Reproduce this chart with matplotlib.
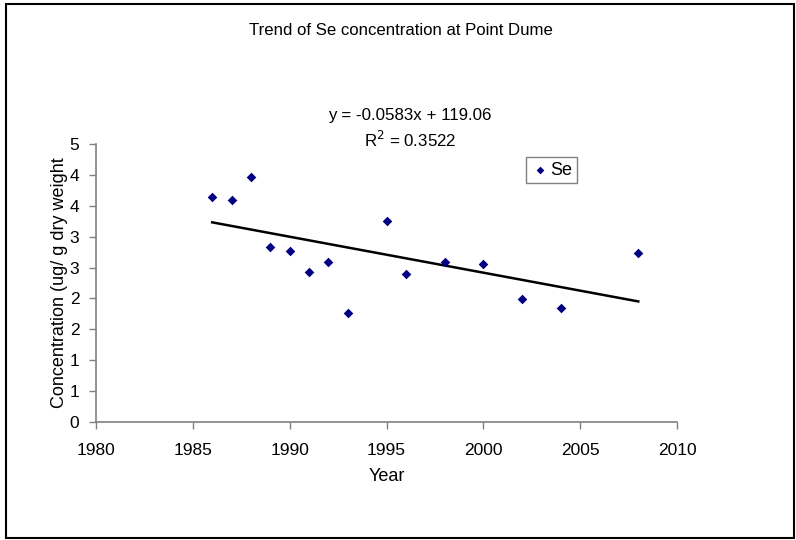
import matplotlib
matplotlib.use("Agg")
import matplotlib.pyplot as plt
import numpy as np
from matplotlib.patches import Rectangle

plt.rcParams['font.family'] = ['Liberation Sans', 'DejaVu Sans']

years = [1986, 1987, 1988, 1989, 1990, 1991, 1992, 1993, 1995, 1996, 1998, 2000, 2002, 2004, 2008]
se = [3.64, 3.60, 3.97, 2.84, 2.77, 2.43, 2.59, 1.76, 3.25, 2.40, 2.59, 2.56, 1.99, 1.85, 2.73]

xticks = [1980, 1985, 1990, 1995, 2000, 2005, 2010]
yticks = [0, 0.5, 1, 1.5, 2, 2.5, 3, 3.5, 4, 4.5]
ytick_labels = ['0', '1', '1', '2', '2', '3', '3', '4', '4', '5']

title = "Trend of Se concentration at Point Dume"
eq_text = "y = -0.0583x + 119.06"
r2_text = "R$^2$ = 0.3522"

fig = plt.figure(figsize=(7.96, 5.40), dpi=100)
fig.patch.set_facecolor('white')
ax = fig.add_axes([96/796, 1-422/540, (677-96)/796, (422-144)/540])

ax.scatter(years, se, marker='D', s=24, color='#000080', zorder=3, label='Se', linewidths=0)

coef = np.polyfit(years, se, 1)
xs = np.array([min(years), max(years)])
ax.plot(xs, np.polyval(coef, xs), color='black', lw=1.8, zorder=2)

ax.set_xlim(1980, 2010)
ax.set_ylim(0, 4.5)
ax.set_xticks(xticks)
ax.set_xticklabels([str(t) for t in xticks])
ax.set_yticks(yticks)
ax.set_yticklabels(ytick_labels)

for s in ['top', 'right']:
    ax.spines[s].set_visible(False)
for s in ['left', 'bottom']:
    ax.spines[s].set_color('#808080')
    ax.spines[s].set_linewidth(1.2)
ax.tick_params(axis='both', direction='out', length=5, width=1, color='#808080',
               labelsize=12.5, labelcolor='black')
ax.tick_params(axis='x', pad=10)
ax.tick_params(axis='y', pad=7)

ax.set_xlabel("Year", fontsize=13, labelpad=7)
ax.set_ylabel("Concentration (ug/ g dry weight", fontsize=13, labelpad=1.5)

fig.text(401/796, 1-31/540, title, ha='center', va='center', fontsize=12.1)
fig.text(410/796, 1-115/540, eq_text, ha='center', va='center', fontsize=12.2)
fig.text(410/796, 1-140/540, r2_text, ha='center', va='center', fontsize=12.2)

leg = ax.legend(loc='upper left', bbox_to_anchor=((526-96)/581, (422-157)/278),
                frameon=True, fancybox=False, fontsize=13, handletextpad=0.1,
                handlelength=1.0, borderpad=0.25, borderaxespad=0, markerscale=0.8)
leg.get_frame().set_edgecolor('#606060')
leg.get_frame().set_linewidth(1.0)

fig.patches.append(Rectangle((6/796, 2/540), 788/796, 534/540, transform=fig.transFigure,
                             fill=False, edgecolor='black', linewidth=1.5))

fig.savefig("out.png", dpi=100)
